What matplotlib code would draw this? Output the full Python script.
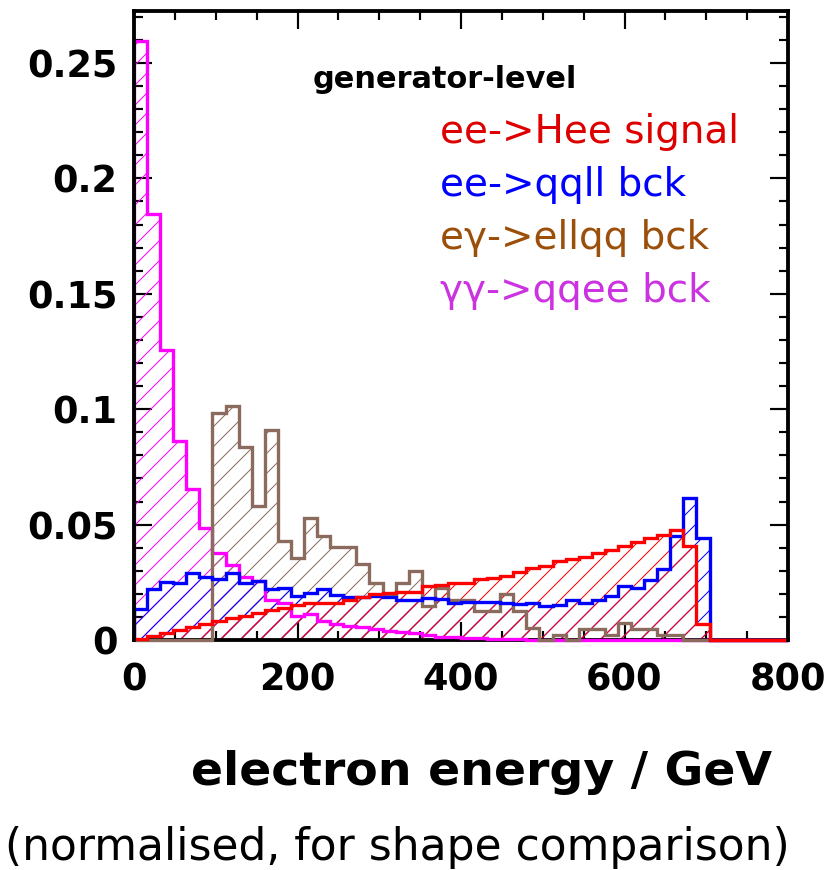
import numpy as np
import matplotlib
matplotlib.use("Agg")
import matplotlib.pyplot as plt
from matplotlib.ticker import MultipleLocator

# ---- data (normalised histograms, 50 bins of 16 GeV from 0 to 800 GeV) ----
bin_edges = np.arange(0, 801, 16)

signal_hee = [0.0003, 0.0017, 0.0029, 0.0043, 0.0056, 0.0069, 0.0082, 0.0094, 0.0105, 0.0115,
              0.0128, 0.0139, 0.0152, 0.0159, 0.0160, 0.0162, 0.0173, 0.0188, 0.0198, 0.0202,
              0.0206, 0.0209, 0.0234, 0.0238, 0.0245, 0.0248, 0.0263, 0.0267, 0.0277, 0.0294,
              0.0310, 0.0320, 0.0342, 0.0349, 0.0361, 0.0375, 0.0392, 0.0407, 0.0426, 0.0443,
              0.0457, 0.0476, 0.0408, 0.0069, 0.0, 0.0, 0.0, 0.0, 0.0, 0.0]

bck_qqll = [0.0134, 0.0221, 0.0250, 0.0245, 0.0289, 0.0274, 0.0263, 0.0289, 0.0248, 0.0257,
            0.0222, 0.0224, 0.0190, 0.0202, 0.0219, 0.0195, 0.0188, 0.0185, 0.0190, 0.0188,
            0.0173, 0.0173, 0.0180, 0.0176, 0.0162, 0.0166, 0.0166, 0.0166, 0.0162, 0.0158,
            0.0162, 0.0147, 0.0152, 0.0173, 0.0159, 0.0173, 0.0190, 0.0234, 0.0224, 0.0260,
            0.0306, 0.0452, 0.0615, 0.0443, 0.0, 0.0, 0.0, 0.0, 0.0, 0.0]

bck_ellqq = [0.0, 0.0, 0.0, 0.0, 0.0, 0.0, 0.0984, 0.1013, 0.0834, 0.0580,
             0.0908, 0.0429, 0.0354, 0.0530, 0.0452, 0.0404, 0.0404, 0.0328, 0.0248, 0.0190,
             0.0248, 0.0300, 0.0147, 0.0224, 0.0173, 0.0173, 0.0126, 0.0126, 0.0198, 0.0126,
             0.0051, 0.0, 0.0022, 0.0, 0.0046, 0.0046, 0.0022, 0.0072, 0.0046, 0.0046,
             0.0022, 0.0022, 0.0, 0.0, 0.0, 0.0, 0.0, 0.0, 0.0, 0.0]

bck_qqee = [0.2596, 0.1845, 0.1255, 0.0860, 0.0655, 0.0487, 0.0378, 0.0325, 0.0271, 0.0255,
            0.0173, 0.0159, 0.0104, 0.0113, 0.0082, 0.0069, 0.0061, 0.0055, 0.0046, 0.0040,
            0.0035, 0.0029, 0.0020, 0.0014, 0.0012, 0.0009, 0.0007, 0.0005, 0.0004, 0.0003,
            0.0002, 0.0002, 0.0001, 0.0001, 0.0, 0.0, 0.0, 0.0, 0.0, 0.0,
            0.0, 0.0, 0.0, 0.0, 0.0, 0.0, 0.0, 0.0, 0.0, 0.0]

labels = ["ee->Hee signal", "ee->qqll bck", "e\u03b3->ellqq bck", "\u03b3\u03b3->qqee bck"]
line_colors = ["#ff0000", "#0000ff", "#8b6b5e", "#ff00ff"]
text_colors = ["#dd0000", "#0000ff", "#9c4f0a", "#cc33e0"]

x_ticks = [0, 200, 400, 600, 800]
y_ticks = [0, 0.05, 0.1, 0.15, 0.2, 0.25]
y_tick_labels = ["0", "0.05", "0.1", "0.15", "0.2", "0.25"]

# ---- figure ----
DPI = 120
W, H = 830, 870
plt.rcParams["font.family"] = ["DejaVu Sans"]
plt.rcParams["hatch.linewidth"] = 0.6

fig = plt.figure(figsize=(W / DPI, H / DPI), dpi=DPI)
ax = fig.add_axes([134 / W, 1 - 640 / H, (788 - 134) / W, (640 - 11) / H])

series = [bck_qqee, bck_ellqq, bck_qqll, signal_hee]
cols = [line_colors[3], line_colors[2], line_colors[1], line_colors[0]]
for z, (vals, c) in enumerate(zip(series, cols)):
    ax.stairs(vals, bin_edges, baseline=0, fill=True, hatch="//", facecolor="none",
              edgecolor=c, linewidth=0, zorder=2 + z)
    ax.stairs(vals, bin_edges, baseline=0, fill=False, color=c, linewidth=2.0,
              zorder=12 + z, clip_on=False)

ax.set_xlim(0, 800)
ax.set_ylim(0, 0.2725)
ax.set_xticks(x_ticks)
ax.set_xticklabels([str(v) for v in x_ticks])
ax.set_yticks(y_ticks)
ax.set_yticklabels(y_tick_labels)
ax.xaxis.set_minor_locator(MultipleLocator(50))
ax.yaxis.set_minor_locator(MultipleLocator(0.01))
ax.tick_params(which="both", direction="in", top=True, right=True, width=1.3, colors="black")
ax.tick_params(which="major", length=11)
ax.tick_params(which="minor", length=5.5)
ax.tick_params(axis="x", which="major", pad=13, labelsize=22)
ax.tick_params(axis="y", which="major", pad=10, labelsize=22)
for lab in ax.get_xticklabels() + ax.get_yticklabels():
    lab.set_fontweight("bold")
for name, sp in ax.spines.items():
    sp.set_linewidth(2.3)
    sp.set_zorder(20 if name in ("left", "right", "top") else 10)

def fx(px):
    return px / W

def fy(py):
    return 1 - py / H

fig.text(fx(313), fy(88), "generator-level", fontsize=18.2, fontweight="bold",
         ha="left", va="baseline", color="black")
for i, (lab, tc) in enumerate(zip(labels, text_colors)):
    fig.text(fx(440), fy(143 + 53 * i), lab, fontsize=23.3, ha="left", va="baseline", color=tc)

fig.text(fx(772), fy(785), "electron energy / GeV", fontsize=28.4, fontweight="bold",
         ha="right", va="baseline")
fig.text(fx(5), fy(860), "(normalised, for shape comparison)", fontsize=26.4,
         ha="left", va="baseline")

fig.savefig("out.png", dpi=DPI)
